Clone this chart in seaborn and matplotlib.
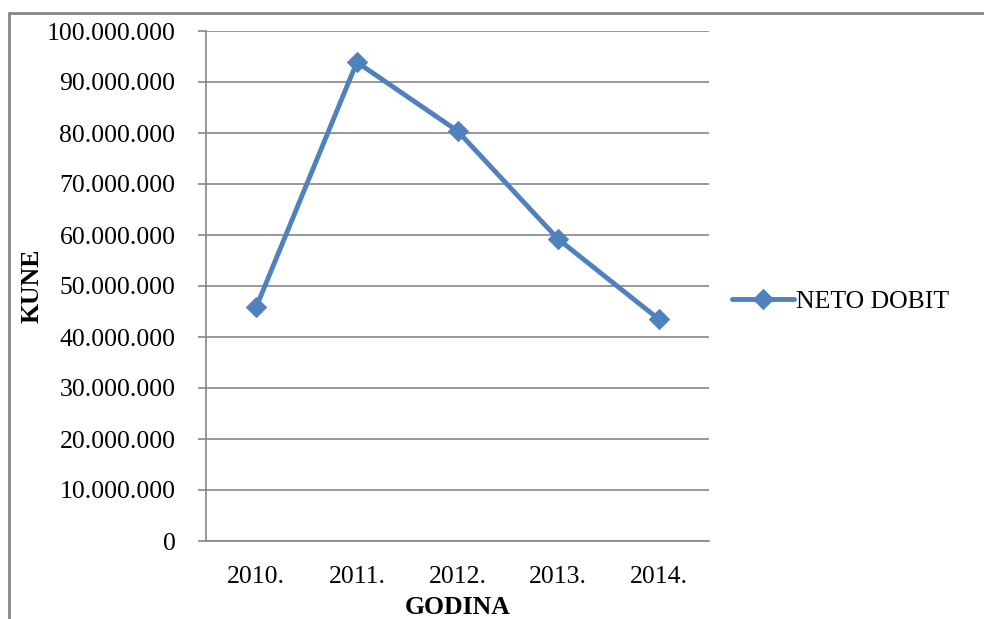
import matplotlib
matplotlib.use("Agg")
import matplotlib.pyplot as plt
import matplotlib.ticker as mticker
from matplotlib.lines import Line2D
import seaborn as sns
import pandas as pd

godine = ["2010.", "2011.", "2012.", "2013.", "2014."]
neto_dobit = [45900000, 93900000, 80400000, 59200000, 43500000]

sns.set_style("white")
plt.rcParams['font.family'] = ['Liberation Serif', 'DejaVu Serif']
plt.rcParams['text.color'] = 'black'
plt.rcParams['axes.labelcolor'] = 'black'
plt.rcParams['xtick.labelcolor'] = 'black'
plt.rcParams['ytick.labelcolor'] = 'black'

df = pd.DataFrame({"godina": range(len(godine)), "dobit": neto_dobit})

fig = plt.figure(figsize=(9.84, 6.19), dpi=100)
ax = fig.add_axes([206 / 984, 1 - 541 / 619, (709 - 206) / 984, (541 - 31) / 619])

grey = "#868686"
blue = "#4F81BD"
fs = 18.5

sns.lineplot(data=df, x="godina", y="dobit", ax=ax, color=blue, linewidth=3.5,
             marker="D", markersize=10.5, markeredgecolor=blue, label="NETO DOBIT")

ax.set_xlim(-0.5, len(godine) - 0.5)
ax.set_ylim(0, 100000000)
ax.set_yticks(range(0, 100000001, 10000000))
ax.yaxis.set_major_formatter(mticker.FuncFormatter(lambda v, p: f"{int(v):,}".replace(",", ".")))
ax.set_xticks(range(len(godine)))
ax.set_xticklabels(godine)
ax.set_xticks([i - 0.5 for i in range(len(godine) + 1)], minor=True)
ax.tick_params(axis="x", which="major", length=0, labelsize=fs, pad=18)
ax.tick_params(axis="x", which="minor", length=6, width=1.2, color=grey, direction="out")
ax.tick_params(axis="y", length=6, width=1.2, color=grey, labelsize=fs, pad=16, left=True)

ax.grid(axis="y", color=grey, linewidth=1.2)
ax.set_axisbelow(True)
for s in ["top", "right"]:
    ax.spines[s].set_visible(False)
for s in ["left", "bottom"]:
    ax.spines[s].set_color(grey)
    ax.spines[s].set_linewidth(1.2)

ax.set_xlabel("GODINA", fontsize=fs, fontweight="bold", labelpad=6)
ax.set_ylabel("KUNE", fontsize=fs, fontweight="bold", labelpad=2)

leg = ax.legend(loc="center left", bbox_to_anchor=(1.0, 0.47), frameon=False,
                fontsize=fs, handlelength=2.4, handletextpad=0.1, borderaxespad=0.5)

# outer chart border (top and left visible)
fig.add_artist(Line2D([8.5 / 984, 1.0], [1 - 12.5 / 619, 1 - 12.5 / 619], color=grey, linewidth=2))
fig.add_artist(Line2D([8.5 / 984, 8.5 / 984], [0, 1 - 12.5 / 619], color=grey, linewidth=2))

fig.savefig("out.png", dpi=100)
